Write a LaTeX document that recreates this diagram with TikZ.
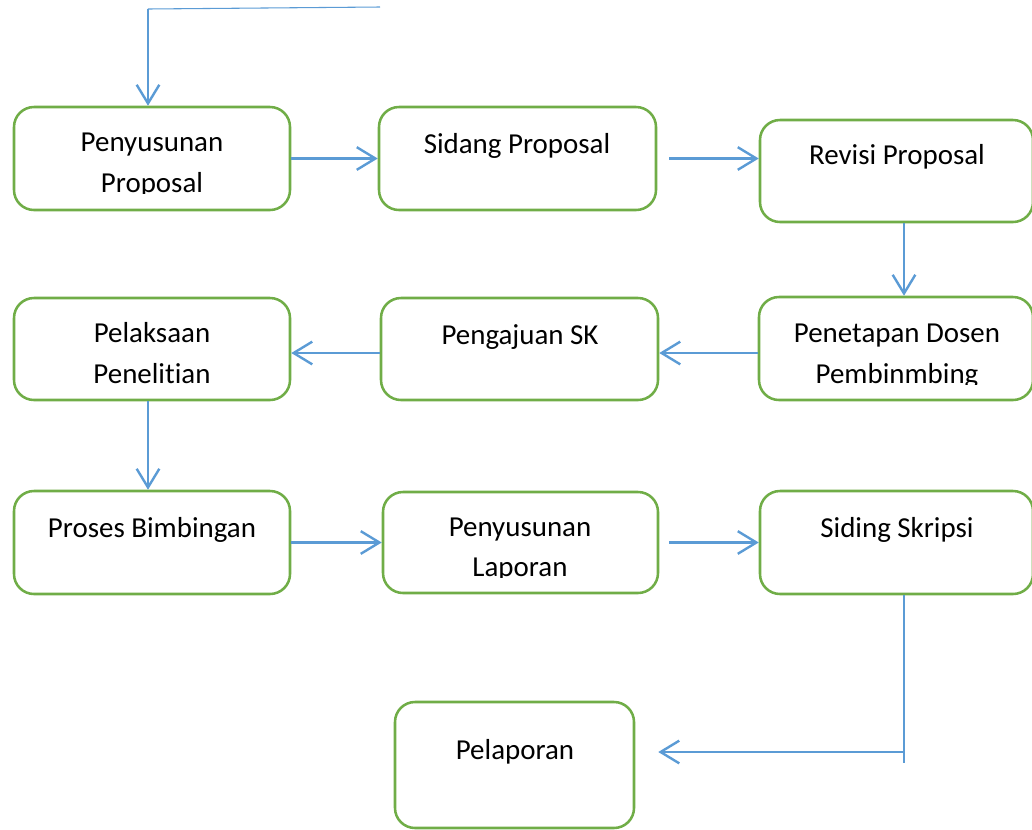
\documentclass[tikz,border=0pt]{standalone}
\usepackage{fontspec}
\setmainfont{Carlito}[Ligatures=NoCommon]
\usetikzlibrary{arrows.meta,calc,fit}
\definecolor{boxgreen}{HTML}{70AD47}
\definecolor{arrblue}{HTML}{5B9BD5}
\tikzset{
  box/.style={draw=boxgreen, line width=1.9pt, rounded corners=15pt, inner sep=0pt},
  arr/.style={draw=arrblue, line width=1.8pt, -{Straight Barb[length=14pt,width=17pt,line width=1.8pt]}},
  thin/.style={draw=arrblue, line width=0.8pt},
  txt/.style={anchor=base, inner sep=0pt, font=\fontsize{21.7}{30}\selectfont}
}
\begin{document}
\begin{tikzpicture}[x=0.75pt,y=-0.75pt]
\useasboundingbox (0,0) rectangle (1032,829);
% boxes
\node[box, fit={(14,107) (290,210)}] (b1) {};
\node[box, fit={(379,107) (656,210)}] (b2) {};
\node[box, fit={(760,120) (1033,222)}] (b3) {};
\node[box, fit={(759,297) (1033,400)}] (b4) {};
\node[box, fit={(381,298) (658,400)}] (b5) {};
\node[box, fit={(14,298) (290,400)}] (b6) {};
\node[box, fit={(14,491) (290,594)}] (b7) {};
\node[box, fit={(383,492) (658,593)}] (b8) {};
\node[box, fit={(760,491) (1033,594)}] (b9) {};
\node[box, fit={(395,702) (634,828)}] (b10) {};
% texts
\begin{scope}
\clip (14,107) rectangle (290,193);
\node[txt] (t1a) at (152,151) {Penyusunan};
\node[txt] (t1b) at (152,192) {Proposal};
\end{scope}
\node[txt] (t2) at (517,153) {Sidang Proposal};
\node[txt] (t3) at (897,164) {Revisi Proposal};
\begin{scope}
\clip (759,297) rectangle (1033,384);
\node[txt] (t4a) at (897,342) {Penetapan Dosen};
\node[txt] (t4b) at (897,383) {Pembinmbing};
\end{scope}
\node[txt] (t5) at (520,344) {Pengajuan SK};
\node[txt] (t6a) at (152,342) {Pelaksaan};
\node[txt] (t6b) at (152,383) {Penelitian};
\node[txt] (t7) at (152,537) {Proses Bimbingan};
\begin{scope}
\clip (383,492) rectangle (658,577);
\node[txt] (t8a) at (520,536) {Penyusunan};
\node[txt] (t8b) at (520,576) {Laporan};
\end{scope}
\node[txt] (t9) at (897,537) {Siding Skripsi};
\node[txt] (t10) at (515,759) {Pelaporan};
% helper coordinates
\coordinate (s) at (380,7);
\coordinate (c0) at (148,9);
\coordinate (colR) at (904,0);
\coordinate (colL) at (148,0);
\coordinate (row2) at (0,353);
\coordinate (e) at (904,763);
\coordinate (k) at (904,752);
% connectors
\draw[thin] (s) -- (c0);
\draw[arr] (c0) -- (c0 |- b1.north);
\draw[arr] (b1.east) -- (b2.west);
\draw[arr] ($(b2.east)+(12,0)$) -- (b3.west |- b2.east);
\draw[arr] (b3.south -| colR) -- (b4.north -| colR);
\draw[arr] (b4.west |- row2) -- (b5.east |- row2);
\draw[arr] (b5.west |- row2) -- (b6.east |- row2);
\draw[arr] (b6.south -| colL) -- (b7.north -| colL);
\draw[arr] (b7.east) -- (b8.west);
\draw[arr] ($(b8.east)+(10,0)$) -- (b9.west |- b8.east);
\draw[thin] (b9.south -| colR) -- (e);
\draw[arr] (k) -- ($(b10.east |- k)+(23,0)$);
\end{tikzpicture}
\end{document}
